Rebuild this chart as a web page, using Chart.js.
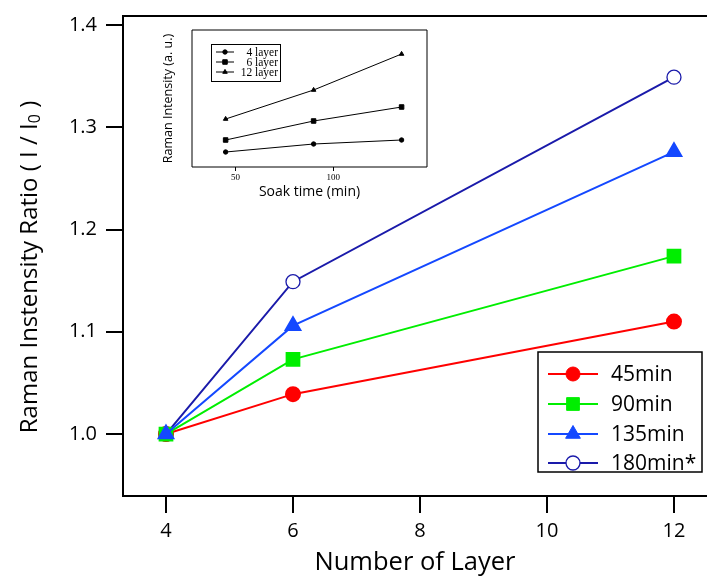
<!DOCTYPE html>
<html><head><meta charset="utf-8">
<script src="https://cdn.jsdelivr.net/npm/chart.js@4.4.0/dist/chart.umd.min.js"></script>
<style>
html,body{margin:0;padding:0;background:#fff;}
#wrap{position:relative;width:707px;height:578px;overflow:hidden;}
#main{position:absolute;left:0;top:0;}
#inset{position:absolute;left:150px;top:20px;}
</style></head><body>
<div id="wrap">
<canvas id="main" width="707" height="578"></canvas>
<canvas id="inset" width="285" height="180"></canvas>
</div>
<script>
// ---- main chart data ----
const layers = [4, 6, 12];
const min45 = [1.000, 1.039, 1.110];
const min90 = [1.000, 1.073, 1.174];
const min135 = [1.000, 1.106, 1.276];
const min180 = [1.000, 1.149, 1.349];
const seriesLabels = ['45min', '90min', '135min', '180min*'];
const xTicks = [4, 6, 8, 10, 12];
const yTicks = [1.0, 1.1, 1.2, 1.3, 1.4];

// ---- inset data (arbitrary units) ----
const soakTimes = [45, 90, 135];
const inset4 = [15, 23, 27];
const inset6 = [27, 46, 60];
const inset12 = [48, 77, 113];
const insetLabels = ['4 layer', '6 layer', '12 layer'];
const insetXTicks = [50, 100];

const FONT = "'Open Sans', sans-serif";
const SERIF = "'Liberation Serif', 'DejaVu Serif', serif";
function pts(xs, ys) { return xs.map((x, i) => ({ x: x, y: ys[i] })); }

const framePlugin = {
  id: 'frame',
  afterDraw(chart, args, opts) {
    const a = chart.chartArea, ctx = chart.ctx;
    ctx.save();
    ctx.strokeStyle = '#000';
    ctx.lineWidth = opts.lineWidth || 2;
    ctx.beginPath();
    if (opts.full) {
      ctx.rect(a.left, a.top, a.right - a.left, a.bottom - a.top);
    } else {
      ctx.moveTo(a.right + 5, a.top);
      ctx.lineTo(a.left, a.top);
      ctx.lineTo(a.left, a.bottom);
      ctx.lineTo(a.right + 5, a.bottom);
    }
    ctx.stroke();
    ctx.restore();
  }
};

const boxLegendPlugin = {
  id: 'boxLegend',
  afterDraw(chart, args, o) {
    const ctx = chart.ctx;
    ctx.save();
    ctx.fillStyle = '#fff';
    ctx.fillRect(o.x, o.y, o.w, o.h);
    ctx.strokeStyle = '#000';
    ctx.lineWidth = o.boxWidth;
    ctx.strokeRect(o.x, o.y, o.w, o.h);
    chart.data.datasets.forEach((ds, i) => {
      const y = o.rows[i];
      ctx.strokeStyle = ds.borderColor;
      ctx.lineWidth = ds.borderWidth;
      ctx.beginPath();
      ctx.moveTo(o.lineX0, y);
      ctx.lineTo(o.lineX1, y);
      ctx.stroke();
      ctx.fillStyle = ds.pointBackgroundColor || ds.backgroundColor;
      ctx.strokeStyle = ds.pointBorderColor || ds.borderColor;
      ctx.lineWidth = ds.pointBorderWidth || 1;
      Chart.helpers.drawPoint(ctx, { pointStyle: ds.pointStyle, radius: ds.pointRadius, rotation: 0, borderWidth: ds.pointBorderWidth || 1 }, (o.lineX0 + o.lineX1) / 2, y);
      ctx.fillStyle = '#000';
      ctx.font = o.font;
      ctx.textAlign = o.align;
      ctx.textBaseline = 'middle';
      ctx.fillText(ds.label, o.textX, y + (o.textDy || 0));
    });
    ctx.restore();
  }
};

const yTitlePlugin = {
  id: 'yTitle',
  afterDraw(chart) {
    const ctx = chart.ctx;
    const main = 'Raman Instensity Ratio ( I / I', sub = '0', tail = ' )';
    ctx.save();
    ctx.translate(30, 267);
    ctx.rotate(-Math.PI / 2);
    ctx.fillStyle = '#000';
    ctx.textBaseline = 'middle';
    ctx.textAlign = 'left';
    const f1 = '24px ' + FONT, f2 = '16px ' + FONT;
    ctx.font = f1; const w1 = ctx.measureText(main).width, w3 = ctx.measureText(tail).width;
    ctx.font = f2; const w2 = ctx.measureText(sub).width;
    let x = -(w1 + w2 + w3) / 2;
    ctx.font = f1; ctx.fillText(main, x, 0); x += w1;
    ctx.font = f2; ctx.fillText(sub, x, 5); x += w2;
    ctx.font = f1; ctx.fillText(tail, x, 0);
    ctx.restore();
  }
};

new Chart(document.getElementById('main'), {
  type: 'line',
  data: {
    datasets: [
      { label: seriesLabels[0], data: pts(layers, min45), borderColor: '#ff0000', backgroundColor: '#ff0000', pointBackgroundColor: '#ff0000', pointBorderColor: '#ff0000', pointStyle: 'circle', pointRadius: 7, borderWidth: 2, order: 3 },
      { label: seriesLabels[1], data: pts(layers, min90), borderColor: '#00ee00', backgroundColor: '#00ee00', pointBackgroundColor: '#00ee00', pointBorderColor: '#00ee00', pointStyle: 'rect', pointRadius: 9, borderWidth: 2, order: 2 },
      { label: seriesLabels[2], data: pts(layers, min135), borderColor: '#1448ff', backgroundColor: '#1448ff', pointBackgroundColor: '#1448ff', pointBorderColor: '#1448ff', pointStyle: 'triangle', pointRadius: 8.5, borderWidth: 2, order: 1 },
      { label: seriesLabels[3], data: pts(layers, min180), borderColor: '#1a1aaa', backgroundColor: '#ffffff', pointBackgroundColor: '#ffffff', pointBorderColor: '#1a1aaa', pointBorderWidth: 1.3, pointStyle: 'circle', pointRadius: 7, borderWidth: 2, order: 4 }
    ]
  },
  options: {
    responsive: false, animation: false,
    layout: { autoPadding: false, padding: { top: 16, right: 0, left: 0, bottom: 0 } },
    elements: { line: { tension: 0, fill: false } },
    plugins: {
      legend: { display: false }, tooltip: { enabled: false },
      frame: { lineWidth: 2 },
      boxLegend: { x: 538, y: 352, w: 164, h: 120, boxWidth: 1.5, rows: [374, 404, 434, 463], lineX0: 548, lineX1: 598, textX: 611, align: 'left', font: '21px ' + FONT, textDy: 1 }
    },
    scales: {
      x: {
        type: 'linear', min: 3.323, max: 12.52,
        afterBuildTicks: s => { s.ticks = xTicks.map(v => ({ value: v })); },
        afterFit: s => { s.height = 82; s.paddingLeft = 0; s.paddingRight = 0; },
        grid: { drawOnChartArea: false, drawTicks: true, tickLength: 17, color: '#000', lineWidth: 2 },
        border: { display: false },
        ticks: { font: { family: FONT, size: 20 }, color: '#000', padding: 6, maxRotation: 0, autoSkip: false, callback: v => String(v) },
        title: { display: true, text: 'Number of Layer', font: { family: FONT, size: 25.5 }, color: '#000', padding: { top: 0, bottom: 0 } }
      },
      y: {
        type: 'linear', min: 0.9394, max: 1.4088,
        afterBuildTicks: s => { s.ticks = yTicks.map(v => ({ value: v })); },
        afterFit: s => { s.width = 123; s.paddingTop = 0; s.paddingBottom = 0; },
        grid: { drawOnChartArea: false, drawTicks: true, tickLength: 17, color: '#000', lineWidth: 2 },
        border: { display: false },
        ticks: { font: { family: FONT, size: 20 }, color: '#000', padding: 9, autoSkip: false, callback: v => Number(v).toFixed(1) },
        title: { display: false }
      }
    }
  },
  plugins: [framePlugin, boxLegendPlugin, yTitlePlugin]
});

new Chart(document.getElementById('inset'), {
  type: 'line',
  data: {
    datasets: [
      { label: insetLabels[0], data: pts(soakTimes, inset4), borderColor: '#000', backgroundColor: '#000', pointStyle: 'circle', pointRadius: 2.2, borderWidth: 1 },
      { label: insetLabels[1], data: pts(soakTimes, inset6), borderColor: '#000', backgroundColor: '#000', pointStyle: 'rect', pointRadius: 3.2, borderWidth: 1 },
      { label: insetLabels[2], data: pts(soakTimes, inset12), borderColor: '#000', backgroundColor: '#000', pointStyle: 'triangle', pointRadius: 2.6, borderWidth: 1 }
    ]
  },
  options: {
    responsive: false, animation: false,
    layout: { autoPadding: false, padding: { top: 10, right: 8, left: 0, bottom: 0 } },
    elements: { line: { tension: 0, fill: false } },
    plugins: {
      legend: { display: false }, tooltip: { enabled: false },
      frame: { lineWidth: 1, full: true },
      boxLegend: { x: 61.5, y: 24.5, w: 69, h: 37, boxWidth: 1, rows: [32, 42, 52], lineX0: 66, lineX1: 84, textX: 128, align: 'right', font: '11.5px ' + SERIF, textDy: 0.5 }
    },
    scales: {
      x: {
        type: 'linear', min: 27.8, max: 148,
        afterBuildTicks: s => { s.ticks = insetXTicks.map(v => ({ value: v })); },
        afterFit: s => { s.height = 33; s.paddingLeft = 0; s.paddingRight = 0; },
        grid: { drawOnChartArea: false, drawTicks: true, tickLength: 4, color: '#000', lineWidth: 1 },
        border: { display: false },
        ticks: { font: { family: SERIF, size: 9 }, color: '#000', padding: 1, maxRotation: 0, autoSkip: false },
        title: { display: true, text: 'Soak time (min)', font: { family: FONT, size: 14 }, color: '#000', padding: { top: 1.5, bottom: 0 } }
      },
      y: {
        type: 'linear', min: 0, max: 137,
        afterFit: s => { s.width = 42; s.paddingTop = 0; s.paddingBottom = 0; },
        grid: { display: false },
        border: { display: false },
        ticks: { display: false },
        title: { display: true, text: 'Raman Intensity (a. u.)', font: { family: FONT, size: 12.5 }, color: '#000', padding: { top: 10.5, bottom: 0 } }
      }
    }
  },
  plugins: [framePlugin, boxLegendPlugin]
});
</script>
</body></html>
